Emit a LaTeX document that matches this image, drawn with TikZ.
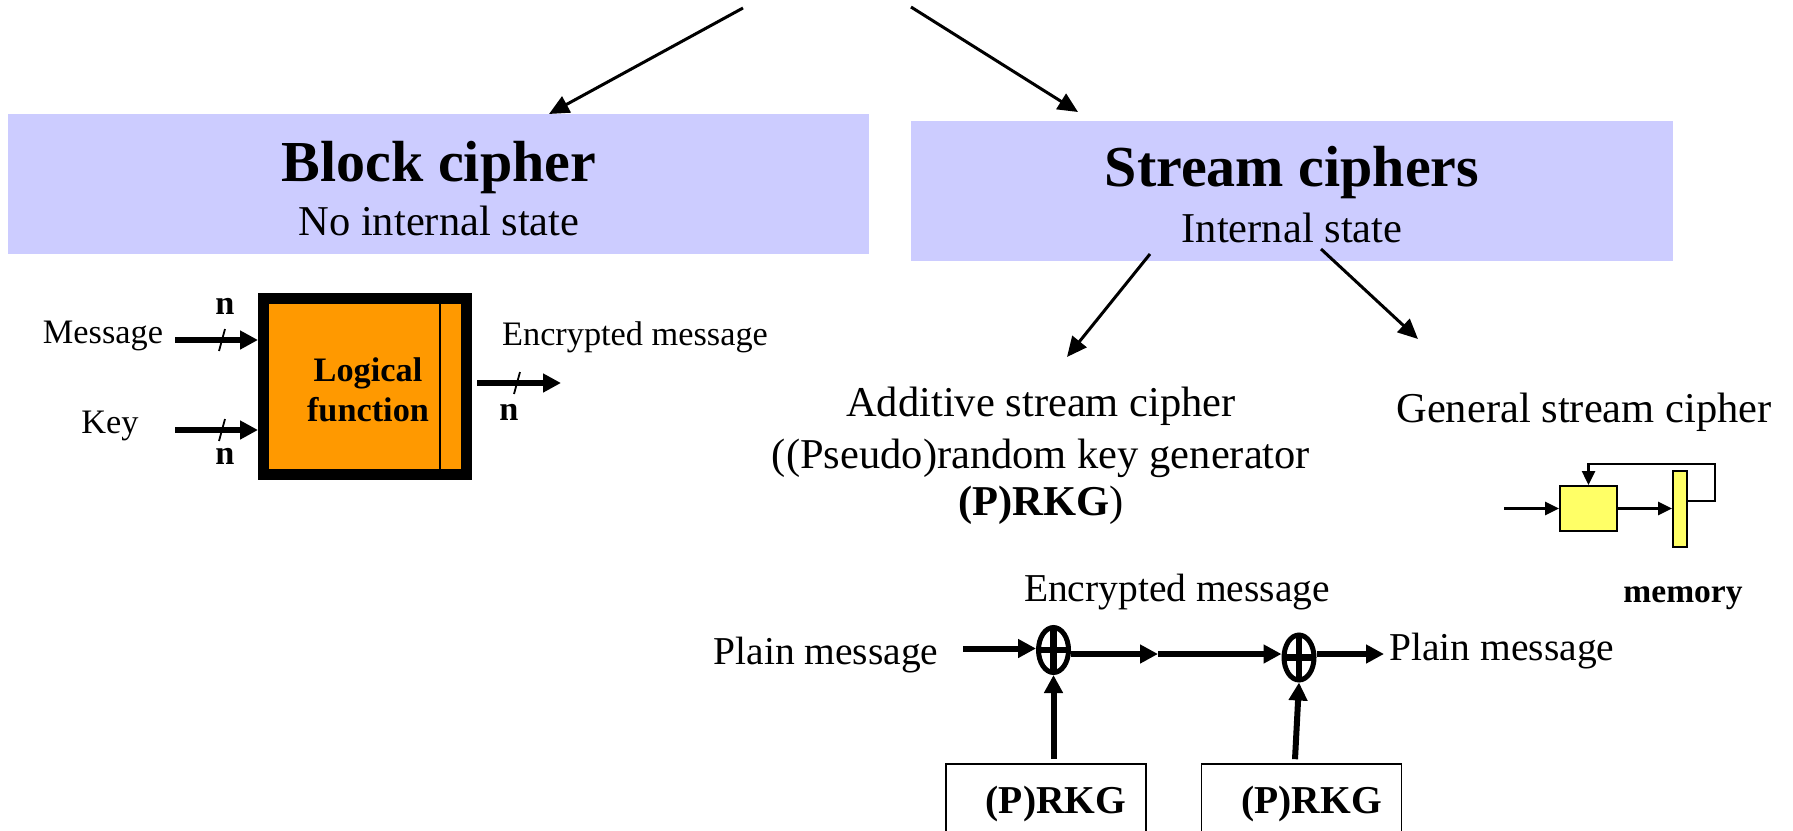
\documentclass[tikz,border=0pt]{standalone}
\usepackage{fontspec}
\setmainfont{Liberation Serif}
\usetikzlibrary{arrows.meta,shapes.geometric}
\definecolor{lav}{HTML}{CCCCFF}
\definecolor{orng}{HTML}{FF9900}
\definecolor{ylw}{HTML}{FFFF66}
\begin{document}
\begin{tikzpicture}[x=0.5pt,y=-0.5pt,
 hdr/.style={fill=lav,draw=none,inner sep=0pt,outer sep=0pt},
 ttl/.style={font=\fontsize{29}{34}\selectfont\bfseries, inner sep=0pt},
 sub/.style={font=\fontsize{21.25}{25}\selectfont, inner sep=0pt},
 sml/.style={font=\fontsize{17.15}{20}\selectfont, inner sep=0pt},
 smlb/.style={font=\fontsize{17.15}{20}\selectfont\bfseries, inner sep=0pt},
 dia/.style={font=\fontsize{19.75}{23}\selectfont, inner sep=0pt},
 memf/.style={font=\fontsize{16.75}{20}\selectfont\bfseries, inner sep=0pt},
 tarr/.style={line width=1.5pt,-{Triangle[length=10pt,width=9pt]}},
 barr/.style={line width=3pt,-{Triangle[length=9pt,width=9pt]}},
 xarr/.style={line width=3pt,-{Triangle[length=9pt,width=9pt]}},
 garr/.style={line width=1.3pt,-{Triangle[length=7pt,width=6.5pt]}},
 slash/.style={line width=0.9pt},
 xor/.style={ellipse, draw, line width=2.5pt, minimum width=15pt, minimum height=22.5pt, inner sep=0pt,
   path picture={\draw[line width=3.4pt] (path picture bounding box.north) -- (path picture bounding box.south)
     (path picture bounding box.west) -- (path picture bounding box.east);}},
 rkg/.style={draw, line width=0.8pt, minimum width=100pt, minimum height=40pt, inner sep=0pt,
   font=\fontsize{19.75}{23}\selectfont\bfseries},
 gbox/.style={fill=ylw, draw, line width=1pt, minimum width=28.5pt, minimum height=22.5pt, inner sep=0pt},
 mbar/.style={fill=ylw, draw, line width=1pt, minimum width=7pt, minimum height=38pt, inner sep=0pt},
]
\useasboundingbox (0,0) rectangle (1793,830);
% headers
\node[hdr, minimum width=430.5pt, minimum height=70pt] (blk) at (438.5,184) {};
\node[hdr, minimum width=381pt, minimum height=70pt] (str) at (1292,191) {};
\node[ttl] (blkT) at (439,168) {Block cipher};
\node[sub] (blkS) at (439,221) {No internal state};
\node[ttl] (strT) at (1292,173) {Stream ciphers};
\node[sub] (strS) at (1292,228) {Internal state};
% top arrows
\coordinate (tl0) at (743,8); \coordinate (tl1) at (549,114);
\coordinate (tr0) at (911,7); \coordinate (tr1) at (1078,112);
\draw[tarr] (tl0) -- (tl1);
\draw[tarr] (tr0) -- (tr1);
% stream sub arrows
\coordinate (sa0) at (1150,254); \coordinate (sa1) at (1067,357);
\coordinate (sb0) at (1321,249); \coordinate (sb1) at (1418,339);
\draw[tarr] (sa0) -- (sa1);
\draw[tarr] (sb0) -- (sb1);
% additive texts
\node[sub] (add1) at (1041,406) {Additive stream cipher};
\node[sub] (add2) at (1041,458) {((Pseudo)random key generator};
\node[sub] (add3) at (1041,505) {\textbf{(P)RKG})};
\node[sub] (gen) at (1584,412) {General stream cipher};
% block cipher diagram
\node[draw=black, line width=5.5pt, fill=orng, minimum width=101.5pt, minimum height=88pt, inner sep=0pt] (lf) at (365,386.5) {};
\draw[line width=0.6pt] (440,304) -- (440,469);
\node[smlb, align=center] (lft) at (368,390) {Logical\\[0pt]function};
\node[sml] (msg) at (103,336) {Message};
\node[sml] (key) at (110,426) {Key};
\coordinate (m0) at (175,340); \coordinate (k0) at (175,430);
\draw[barr] (m0) -- (lf.west |- m0);
\draw[barr] (k0) -- (lf.west |- k0);
\draw[slash] (219,351) -- (225,329);
\draw[slash] (219,441) -- (225,419);
\node[smlb] (n1) at (225,306) {n};
\node[smlb] (n2) at (225,456) {n};
\coordinate (o1) at (561,383);
\draw[barr, shorten <=2.5pt] (lf.east |- o1) -- (o1);
\draw[slash] (514,394) -- (520,372);
\node[smlb] (n3) at (509,412) {n};
\node[sml] (enc1) at (635,337) {Encrypted message};
% additive diagram
\node[dia] (pm1) at (826,655) {Plain message};
\node[xor] (x1) at (1053.5,650) {};
\node[xor] (x2) at (1299,657.5) {};
\coordinate (p0) at (963,648.5);
\draw[xarr] (p0) -- (x1.west |- p0);
\coordinate (mid) at (1158,654);
\draw[xarr] (x1.east |- mid) -- (mid);
\draw[xarr] (mid) -- (x2.west |- mid);
\node[dia, anchor=west] (pm2) at (1389,651) {Plain message};
\draw[xarr] (x2.east |- mid) -- ([xshift=-2.5pt]pm2.west |- mid);
\node[dia] (enc2) at (1177,592) {Encrypted message};
\node[rkg] (r1) at (1046,804) {\hspace*{10pt}(P)RKG};
\node[rkg] (r2) at (1301.5,804) {\hspace*{10pt}(P)RKG};
\draw[xarr] ([yshift=2pt]r1.north -| x1) -- (x1.south);
\draw[xarr] ([yshift=2pt,xshift=-2pt]r2.north -| x2) -- (x2.south);
% general stream cipher
\node[gbox] (yb) at (1588.5,508.5) {};
\node[mbar] (mb) at (1680,509) {};
\coordinate (g0) at (1504,508.5);
\draw[garr] (g0) -- (yb);
\draw[garr] (yb.east) -- (mb.west |- yb.east);
\coordinate (fb1) at (1715,501); \coordinate (fb2) at (1715,464);
\draw[garr] (mb.east |- fb1) -- (fb1) -- (fb2) -- (yb.north |- fb2) -- (yb.north);
\node[memf] (memlbl) at (1683,598) {memory};
\end{tikzpicture}
\end{document}
